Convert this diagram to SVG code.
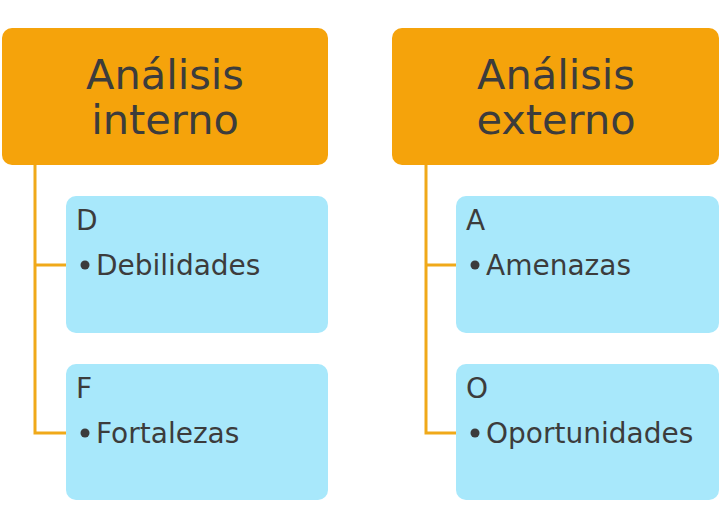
<svg xmlns="http://www.w3.org/2000/svg" width="720" height="529" viewBox="0 0 720 529">
<style>
.h{fill:#F5A30B}
.b{fill:#A8E8FB}
.t{font-family:"DejaVu Sans",sans-serif;fill:#3C3C3C}
.ht{font-size:41.5px;text-anchor:middle}
.bt{font-size:28px}
.c{stroke:#F0A91A;stroke-width:3;fill:none}
</style>
<rect width="720" height="529" fill="#fff"/>
<g id="connectors">
<path class="c" d="M35 165V433H66M35 265H66"/>
<path class="c" d="M426 165V433H456M426 265H456"/>
</g>
<g id="n1"><rect class="h" x="2" y="28" width="326" height="137" rx="10"/><text class="t ht" x="165" y="89">Análisis</text><text class="t ht" x="165" y="134">interno</text></g>
<g id="n2"><rect class="h" x="392" y="28" width="327" height="137" rx="10"/><text class="t ht" x="556" y="89">Análisis</text><text class="t ht" x="556" y="134">externo</text></g>
<g id="n3"><rect class="b" x="66" y="196" width="262" height="137" rx="10"/><text class="t bt" x="76" y="230">D</text><circle cx="85" cy="265" r="4.5" fill="#3C3C3C"/><text class="t bt" x="96" y="275">Debilidades</text></g>
<g id="n4"><rect class="b" x="66" y="364" width="262" height="136" rx="10"/><text class="t bt" x="76" y="398">F</text><circle cx="85" cy="433" r="4.5" fill="#3C3C3C"/><text class="t bt" x="96" y="443">Fortalezas</text></g>
<g id="n5"><rect class="b" x="456" y="196" width="263" height="137" rx="10"/><text class="t bt" x="466" y="230">A</text><circle cx="475" cy="265" r="4.5" fill="#3C3C3C"/><text class="t bt" x="486" y="275">Amenazas</text></g>
<g id="n6"><rect class="b" x="456" y="364" width="263" height="136" rx="10"/><text class="t bt" x="466" y="398">O</text><circle cx="475" cy="433" r="4.5" fill="#3C3C3C"/><text class="t bt" x="486" y="443">Oportunidades</text></g>
</svg>
